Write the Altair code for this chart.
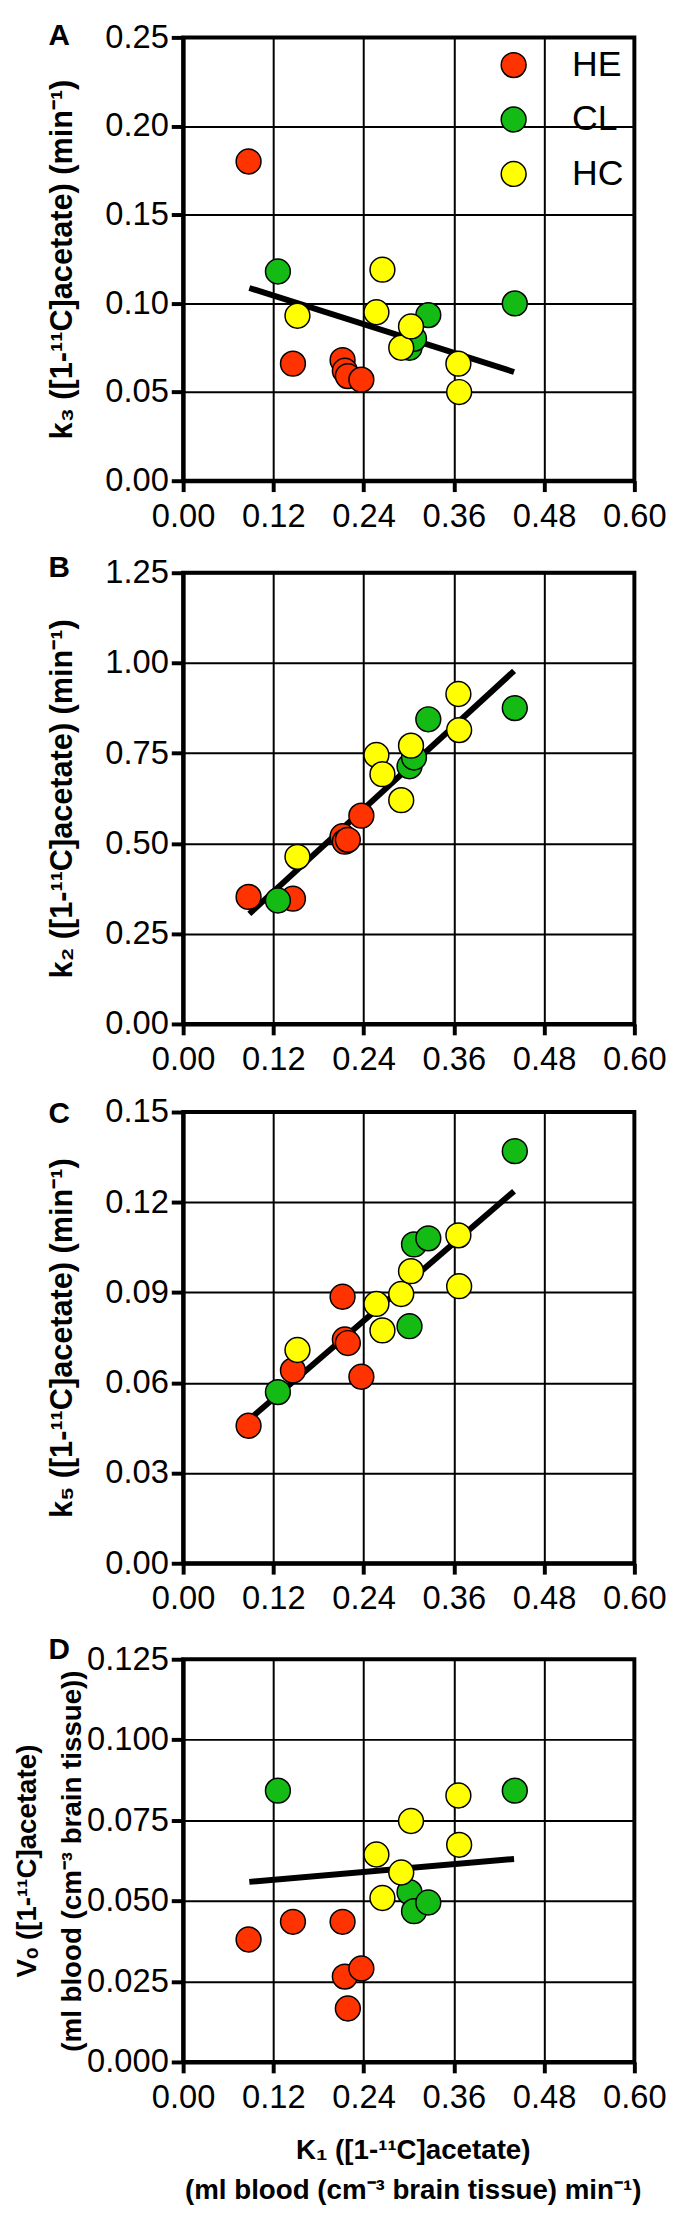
import altair as alt
import pandas as pd

GROUPS = ["HE", "CL", "HC"]
COLORS = ["#FF3300", "#14BB14", "#FFFF00"]
FONT = "Liberation Sans"

# K1 values (x) for each group
K1_HE = [0.087, 0.146, 0.212, 0.215, 0.219, 0.237]
K1_CL = [0.126, 0.301, 0.307, 0.326, 0.441]
K1_HC = [0.152, 0.257, 0.265, 0.290, 0.303, 0.366, 0.367]

# Panel A: k3
K3_HE = [0.180, 0.066, 0.068, 0.062, 0.059, 0.057]
K3_CL = [0.118, 0.075, 0.080, 0.0934, 0.100]
K3_HC = [0.093, 0.095, 0.119, 0.075, 0.087, 0.066, 0.050]

# Panel B: k2
K2_HE = [0.352, 0.347, 0.520, 0.505, 0.510, 0.577]
K2_CL = [0.342, 0.714, 0.738, 0.844, 0.875]
K2_HC = [0.463, 0.745, 0.692, 0.620, 0.771, 0.914, 0.814]

# Panel C: k5
K5_HE = [0.0457, 0.0641, 0.0886, 0.0744, 0.0732, 0.0620]
K5_CL = [0.0569, 0.0788, 0.1060, 0.1080, 0.1370]
K5_HC = [0.0709, 0.0862, 0.0774, 0.0895, 0.0971, 0.1090, 0.0921]

# Panel D: Vo
VO_HE = [0.0380, 0.0435, 0.0435, 0.0265, 0.0166, 0.0290]
VO_CL = [0.0842, 0.0527, 0.0468, 0.0495, 0.0842]
VO_HC = [None, 0.0644, 0.0509, 0.0588, 0.0748, 0.0827, 0.0674]

# Regression line end points
FIT_X = [0.088, 0.440]
FIT_A = [0.1087, 0.0613]
FIT_B = [0.305, 0.978]
FIT_C = [0.0478, 0.1237]
FIT_D = [0.0559, 0.0630]

X_TICKS = [0.0, 0.12, 0.24, 0.36, 0.48, 0.60]
A_TICKS = [0.0, 0.05, 0.10, 0.15, 0.20, 0.25]
B_TICKS = [0.0, 0.25, 0.50, 0.75, 1.00, 1.25]
C_TICKS = [0.0, 0.03, 0.06, 0.09, 0.12, 0.15]
D_TICKS = [0.0, 0.025, 0.050, 0.075, 0.100, 0.125]

W = 456


def make_df(he, cl, hc):
    rows = []
    for g, xs, ys in (("HE", K1_HE, he), ("CL", K1_CL, cl), ("HC", K1_HC, hc)):
        for x, y in zip(xs, ys):
            if y is None:
                continue
            rows.append({"K1": x, "v": y, "group": g})
    return pd.DataFrame(rows)


def panel(letter, he, cl, hc, fit, ticks, yfmt, ytitle, height, letter_y,
          legend=False, xtitle=None, two_line_y=False):
    df = make_df(he, cl, hc)
    if xtitle is None:
        xaxis = alt.Axis(values=X_TICKS, format=".2f", title=None)
    else:
        xaxis = alt.Axis(values=X_TICKS, format=".2f", title=xtitle,
                         titleFontSize=28, titleX=232, titleY=76,
                         titleBaseline="top", titleAlign="center",
                         titleLineHeight=40)
    if two_line_y:
        yaxis = alt.Axis(values=ticks, format=yfmt, title=ytitle,
                         titleFontSize=28, titleX=-171, titleY=height / 2,
                         titleBaseline="top", titleAlign="center",
                         titleLineHeight=45)
    else:
        yaxis = alt.Axis(values=ticks, format=yfmt, title=ytitle,
                         titleFontSize=31, titleX=-122, titleY=height / 2,
                         titleBaseline="middle", titleAlign="center")
    xenc = alt.X("K1:Q", scale=alt.Scale(domain=[0, 0.6], nice=False, zero=True), axis=xaxis)
    yenc = alt.Y("v:Q", scale=alt.Scale(domain=[ticks[0], ticks[-1]], nice=False), axis=yaxis)

    line = alt.Chart(pd.DataFrame({"K1": FIT_X, "v": fit})).mark_line(
        color="black", strokeWidth=6).encode(x=xenc, y=yenc)

    if legend:
        leg = alt.Legend(title=None, orient="none", legendX=316, legendY=10,
                         symbolType="circle", symbolSize=630,
                         symbolStrokeColor="black", symbolStrokeWidth=1.5,
                         symbolOpacity=1, labelFont=FONT, labelFontSize=36,
                         labelColor="black", labelOffset=41, rowPadding=19,
                         padding=0)
    else:
        leg = None
    pts = alt.Chart(df).mark_circle(size=630, stroke="black", strokeWidth=1.5,
                                    opacity=1).encode(
        x=xenc, y=yenc,
        color=alt.Color("group:N", scale=alt.Scale(domain=GROUPS, range=COLORS),
                        legend=leg))

    lab = alt.Chart(pd.DataFrame({"t": [letter]})).mark_text(
        font=FONT, fontSize=30, fontWeight="bold", align="left",
        baseline="alphabetic", color="black").encode(
        text="t:N", x=alt.value(-136), y=alt.value(letter_y))

    return alt.layer(line, pts, lab).properties(width=W, height=height)


pA = panel("A", K3_HE, K3_CL, K3_HC, FIT_A, A_TICKS, ".2f",
           "k\u2083 ([1-\u00b9\u00b9C]acetate) (min\u207b\u00b9)", 448, 8, legend=True)
pB = panel("B", K2_HE, K2_CL, K2_HC, FIT_B, B_TICKS, ".2f",
           "k\u2082 ([1-\u00b9\u00b9C]acetate) (min\u207b\u00b9)", 456, 4)
pC = panel("C", K5_HE, K5_CL, K5_HC, FIT_C, C_TICKS, ".2f",
           "k\u2085 ([1-\u00b9\u00b9C]acetate) (min\u207b\u00b9)", 456, 11)
pD = panel("D", VO_HE, VO_CL, VO_HC, FIT_D, D_TICKS, ".3f",
           ["V\u2092 ([1-\u00b9\u00b9C]acetate)", "(ml blood (cm\u207b\u00b3 brain tissue))"],
           407, 0,
           xtitle=["K\u2081 ([1-\u00b9\u00b9C]acetate)",
                   "(ml blood (cm\u207b\u00b3 brain tissue) min\u207b\u00b9)"],
           two_line_y=True)

chart = alt.vconcat(pA, pB, pC, pD, spacing=16).resolve_scale(
    color="independent").resolve_legend(color="independent").properties(
    padding={"left": 3, "top": 0, "right": 0, "bottom": 2},
    background="white"
).configure_view(
    stroke="black", strokeWidth=4
).configure_axis(
    labelFont=FONT, labelFontSize=33, labelColor="black",
    domainColor="black", domainWidth=4, tickColor="black", tickWidth=4,
    gridColor="black", gridWidth=2, gridOpacity=1,
    titleFont=FONT, titleFontWeight="bold", titleColor="black",
    labelFlush=False, labelOverlap=False
).configure_axisX(
    tickSize=11, labelPadding=9
).configure_axisY(
    tickSize=12, labelPadding=3
)

chart.save("out.html", embed_options={"renderer": "svg", "actions": False})
